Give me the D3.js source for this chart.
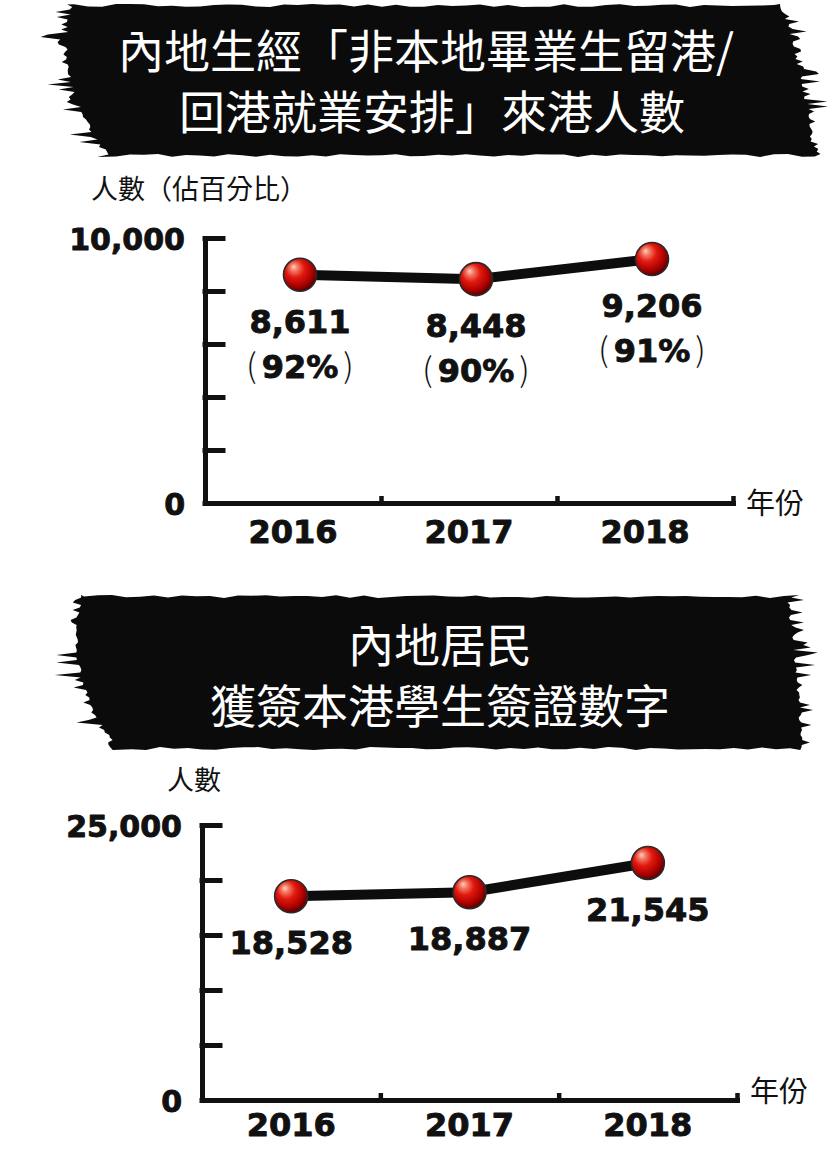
<!DOCTYPE html>
<html><head><meta charset="utf-8">
<script src="https://cdn.jsdelivr.net/npm/d3@7"></script>
<style>body{margin:0;background:#fff}svg{display:block}</style>
</head><body>
<svg id="c" width="836" height="1154"></svg>
<script>
// ---------- data ----------
const years = ["2016", "2017", "2018"];
const graduateCounts = [8611, 8448, 9206];
const graduateShares = ["92%", "90%", "91%"];
const visaCounts = [18528, 18887, 21545];

const title1Lines = ["內地生經「非本地畢業生留港/", "回港就業安排」來港人數"];
const title2Lines = ["內地居民", "獲簽本港學生簽證數字"];

const yTicks1 = [0, 2000, 4000, 6000, 8000, 10000];
const yTickLabels1 = ["0", "", "", "", "", "10,000"];
const yTicks2 = [0, 5000, 10000, 15000, 20000, 25000];
const yTickLabels2 = ["0", "", "", "", "", "25,000"];

const yTitle1 = "人數（佔百分比）";
const yTitle2 = "人數";
const xTitle = "年份";

// ---------- setup ----------
const CJK = "'Noto Sans CJK TC','Noto Sans CJK SC',sans-serif";
const NUM = "'DejaVu Sans',sans-serif";
const INK = "#111";

const svg = d3.select("#c");
svg.append("rect").attr("width", 836).attr("height", 1154).attr("fill", "#fff");

const defs = svg.append("defs");
const grad = defs.append("radialGradient").attr("id", "ball")
  .attr("cx", "0.42").attr("cy", "0.38").attr("r", "0.62")
  .attr("fx", "0.3").attr("fy", "0.25");
[[0, "#ffd2c2"], [0.18, "#f47a66"], [0.45, "#e2190f"], [0.8, "#a80000"], [1, "#5a0000"]]
  .forEach(([o, c]) => grad.append("stop").attr("offset", o).attr("stop-color", c));

// heavy number styling helper
function heavy(sel, size) {
  return sel.attr("font-family", NUM).attr("font-weight", "bold").attr("font-size", size)
    .attr("fill", INK).attr("stroke", INK).attr("stroke-width", 0.9).attr("stroke-linejoin", "round");
}

// ---------- brush banner ----------
function brushPath(b) {
  let s = b.seed;
  const rnd = () => (s = (s * 16807) % 2147483647) / 2147483647;
  const pts = [];
  const h = b.bottom - b.top;
  const quad = (a, m, c, t) => a * (1 - t) * (1 - 2 * t) + 4 * m * t * (1 - t) + c * t * (2 * t - 1);
  for (let x = b.leftTop; x <= b.rightTop; x += 14) pts.push([x, b.top + rnd() * 3]);
  for (let y = b.top; y <= b.bottom; y += 2.5) {
    const t = (y - b.top) / h;
    const base = quad(b.rightTop, b.rightMid, b.rightBottom, t);
    const r = rnd();
    const sp = r < 0.22 ? rnd() * 26 : r < 0.5 ? rnd() * 10 : rnd() * 3;
    pts.push([base + sp, y]);
  }
  for (let x = b.rightBottom - 10; x >= b.leftBottom; x -= 14) pts.push([x, b.bottom - rnd() * 3]);
  for (let y = b.bottom; y >= b.top; y -= 2.5) {
    const t = (y - b.top) / h;
    const base = quad(b.leftTop, b.leftMid, b.leftBottom, t);
    const r = rnd();
    const sp = r < 0.22 ? rnd() * 30 : r < 0.5 ? rnd() * 10 : rnd() * 3;
    pts.push([base - sp, y]);
  }
  return "M" + pts.map(p => p[0].toFixed(1) + "," + p[1].toFixed(1)).join("L") + "Z";
}

function banner(b, lines) {
  svg.append("path").attr("d", brushPath(b)).attr("fill", "#0b0b0b");
  lines.forEach((t, i) => {
    svg.append("text").text(t)
      .attr("x", b.textX[i]).attr("y", b.baselines[i])
      .attr("text-anchor", "middle")
      .attr("font-family", CJK).attr("font-size", b.fontSize)
      .attr("fill", "#fff");
  });
}

banner({top: 4, bottom: 157, leftTop: 74, leftMid: 72, leftBottom: 112,
        rightTop: 779, rightMid: 800, rightBottom: 812, seed: 12345,
        textX: [426, 432], baselines: [68, 129], fontSize: 46}, title1Lines);
banner({top: 595, bottom: 750, leftTop: 84, leftMid: 82, leftBottom: 120,
        rightTop: 786, rightMid: 795, rightBottom: 800, seed: 67890,
        textX: [440, 440], baselines: [662, 723], fontSize: 46}, title2Lines);

// ---------- charts ----------
function drawChart(cfg) {
  const g = svg.append("g");
  const x = d3.scaleBand().domain(years).range([cfg.x0, cfg.x1]);
  const y = d3.scaleLinear().domain([0, cfg.max]).range([cfg.yBot, cfg.yTop]);
  const xBound = d3.scaleLinear().domain([0, years.length]).range([cfg.x0, cfg.x1]);

  // y axis
  const ya = g.append("g").attr("transform", `translate(${cfg.x0},0)`)
    .call(d3.axisLeft(y).tickValues(cfg.ticks).tickSizeInner(-18).tickSizeOuter(0)
      .tickPadding(20).tickFormat((d, i) => cfg.tickLabels[i]));
  ya.selectAll("path,line").attr("stroke", INK).attr("stroke-width", 5).attr("stroke-linecap", "square");
  heavy(ya.selectAll("text"), 30).attr("dy", "0.38em");

  // x axis
  const xa = g.append("g").attr("transform", `translate(0,${cfg.yBot})`)
    .call(d3.axisBottom(x).tickSize(0).tickSizeOuter(0));
  xa.select(".domain").attr("stroke", INK).attr("stroke-width", 5).attr("stroke-linecap", "square");
  heavy(xa.selectAll("text"), 32).attr("y", cfg.xLabelOffset).attr("dy", 0);

  const xb = g.append("g").attr("transform", `translate(0,${cfg.yBot})`)
    .call(d3.axisBottom(xBound).tickValues(d3.range(1, years.length + 1)).tickSizeInner(-7).tickFormat(""));
  xb.select(".domain").remove();
  xb.selectAll("line").attr("stroke", INK).attr("stroke-width", 4.5);

  // axis titles
  g.append("text").text(cfg.yTitle).attr("x", cfg.yTitleX).attr("y", cfg.yTitleY)
    .attr("font-family", CJK).attr("font-size", 27).attr("fill", INK);
  g.append("text").text(xTitle).attr("x", cfg.xTitleX).attr("y", cfg.xTitleY)
    .attr("font-family", CJK).attr("font-size", 29).attr("fill", INK);

  const cx = i => x(years[i]) + x.bandwidth() / 2 + cfg.markerShift;

  // line
  const line = d3.line().x((d, i) => cx(i)).y(d => y(d));
  g.append("path").datum(cfg.values).attr("d", line)
    .attr("fill", "none").attr("stroke", "#0d0d0d").attr("stroke-width", 10);

  // markers
  g.selectAll("circle.m").data(cfg.values).join("circle")
    .attr("cx", (d, i) => cx(i)).attr("cy", d => y(d)).attr("r", 16.5)
    .attr("fill", "url(#ball)").attr("stroke", "#2a2a2a").attr("stroke-width", 1.6);

  // value labels
  cfg.values.forEach((v, i) => {
    heavy(g.append("text").text(d3.format(",")(v))
      .attr("x", cx(i)).attr("y", y(v) + 58).attr("text-anchor", "middle"), 32);
    if (cfg.shares) {
      const t = g.append("text").attr("x", cx(i)).attr("y", y(v) + 103)
        .attr("text-anchor", "middle").attr("fill", INK);
      t.append("tspan").text("(").attr("font-family", CJK).attr("font-size", 33).attr("font-weight", 300);
      heavy(t.append("tspan").text(cfg.shares[i]).attr("dx", 5), 32);
      t.append("tspan").text(")").attr("dx", 5).attr("font-family", CJK).attr("font-size", 33).attr("font-weight", 300);
    }
  });
}

drawChart({x0: 205, x1: 733, yTop: 238, yBot: 503, max: 10000,
  ticks: yTicks1, tickLabels: yTickLabels1, values: graduateCounts, shares: graduateShares,
  markerShift: 7, xLabelOffset: 40,
  yTitle: yTitle1, yTitleX: 91, yTitleY: 199, xTitleX: 746, xTitleY: 514});

drawChart({x0: 202, x1: 737, yTop: 825, yBot: 1100, max: 25000,
  ticks: yTicks2, tickLabels: yTickLabels2, values: visaCounts, shares: null,
  markerShift: 0, xLabelOffset: 36,
  yTitle: yTitle2, yTitleX: 167, yTitleY: 790, xTitleX: 750, xTitleY: 1102});
</script>
</body></html>
